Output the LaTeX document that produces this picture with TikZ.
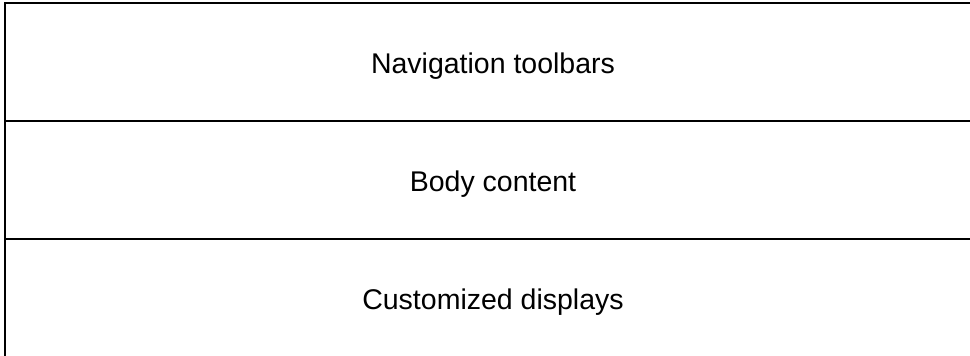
\documentclass[tikz,border=0pt]{standalone}
\usepackage{fontspec}
\setmainfont{Liberation Sans}
\usetikzlibrary{positioning}

\begin{document}
\begin{tikzpicture}[x=1pt, y=1pt]
				\tikzstyle{layerbox}=[draw=black, line width=2pt, outer sep=0pt, inner sep=0pt, minimum width=976pt, minimum height=118pt, text height=22pt, text depth=0pt, font=\fontsize{28.5}{34}\selectfont, text=black]

				\useasboundingbox (0,0) rectangle (970,-356);

				\node (navbar) at (5,-3) [layerbox, anchor=north west] {Navigation toolbars};
				\node (bodycontent) [layerbox, below=0pt of navbar] {Body content};
				\node (displays) [layerbox, below=0pt of bodycontent] {Customized displays};

\end{tikzpicture}
\end{document}
